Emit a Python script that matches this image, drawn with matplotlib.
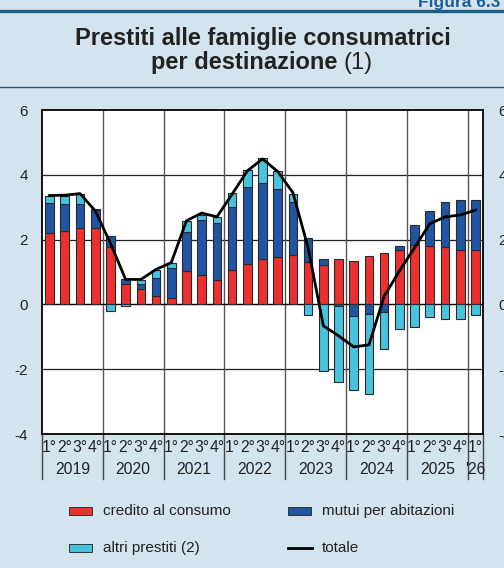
import matplotlib
matplotlib.use("Agg")
import matplotlib.pyplot as plt
import numpy as np
from matplotlib.patches import Rectangle
from matplotlib.lines import Line2D

plt.rcParams['font.family'] = ['Liberation Sans', 'DejaVu Sans']

years = ["2019", "2020", "2021", "2022", "2023", "2024", "2025", "'26"]
quarters = ["1°", "2°", "3°", "4°"]

credito = [2.21, 2.27, 2.35, 2.37,
           1.77, 0.62, 0.46, 0.27,
           0.21, 1.03, 0.90, 0.74,
           1.05, 1.24, 1.40, 1.45,
           1.51, 1.30, 1.21, 1.40,
           1.34, 1.49, 1.60, 1.67,
           1.82, 1.80, 1.76, 1.69,
           1.67]
mutui = [0.92, 0.84, 0.74, 0.54,
         0.33, 0.16, 0.18, 0.55,
         0.92, 1.20, 1.71, 1.78,
         1.96, 2.37, 2.34, 2.12,
         1.65, 0.76, 0.18, -0.06,
         -0.36, -0.30, -0.24, 0.12,
         0.62, 1.08, 1.39, 1.53,
         1.56]
altri = [0.21, 0.23, 0.33, 0.02,
         -0.21, -0.04, 0.10, 0.25,
         0.15, 0.35, 0.15, 0.18,
         0.43, 0.53, 0.78, 0.55,
         0.26, -0.33, -2.06, -2.32,
         -2.29, -2.45, -1.14, -0.77,
         -0.69, -0.38, -0.45, -0.45,
         -0.33]
totale = [3.36, 3.37, 3.42, 2.89,
          1.89, 0.77, 0.77, 1.08,
          1.29, 2.58, 2.82, 2.70,
          3.40, 4.12, 4.49, 4.10,
          3.45, 1.75, -0.66, -0.97,
          -1.31, -1.25, 0.25, 1.03,
          1.75, 2.49, 2.70, 2.76,
          2.91]

series_labels = ["credito al consumo", "mutui per abitazioni", "altri prestiti (2)", "totale"]
c_red = "#ec2f2f"
c_blue = "#1f55a3"
c_light = "#48c3de"
bg = "#d4e4ef"
teal = "#1b5e87"
txt = "#222222"

W, H = 504, 568
fig = plt.figure(figsize=(W / 100, H / 100), dpi=100)
fig.patch.set_facecolor(bg)

def fx(px):
    return px / W

def fy(py):
    return 1 - py / H

# header lines
fig.add_artist(Line2D([0, 1], [fy(10.5), fy(10.5)], color=teal, lw=2.4))
fig.add_artist(Line2D([0, 1], [fy(87), fy(87)], color=teal, lw=1.0))
fig.text(fx(418), fy(7), "Figura 6.3", fontsize=12.5, fontweight='bold', color="#1b5e9a",
         ha='left', va='baseline')

fs_title = 17
fig.text(fx(263), fy(45), "Prestiti alle famiglie consumatrici", fontsize=fs_title,
         fontweight='bold', color=txt, ha='center', va='baseline')
t1 = fig.text(0, fy(69), "per destinazione ", fontsize=fs_title, fontweight='bold',
              color=txt, ha='left', va='baseline')
t2 = fig.text(0, fy(69), "(1)", fontsize=fs_title, color=txt, ha='left', va='baseline')
fig.canvas.draw()
w1 = t1.get_window_extent().width
w2 = t2.get_window_extent().width
x0 = 262 - (w1 + w2) / 2
t1.set_x(fx(x0))
t2.set_x(fx(x0 + w1))

left, right, top, bottom = 42, 483, 110, 434
ax = fig.add_axes([fx(left), fy(bottom), fx(right - left), (bottom - top) / H])
ax.set_facecolor("white")

n = len(credito)
x = np.arange(n)
width = 0.57

pos_base = np.zeros(n)
neg_base = np.zeros(n)
for vals, col in [(credito, c_red), (mutui, c_blue), (altri, c_light)]:
    v = np.array(vals)
    base = np.where(v >= 0, pos_base, neg_base)
    ax.bar(x, v, width=width, bottom=base, color=col, edgecolor="#2a2a2a", linewidth=0.8, zorder=3)
    pos_base = pos_base + np.where(v >= 0, v, 0)
    neg_base = neg_base + np.where(v < 0, v, 0)

ax.plot(x, totale, color="black", lw=2.0, zorder=4, solid_joinstyle='round')

ax.set_xlim(-0.5, n - 0.5)
ax.set_ylim(-4, 6)
for yv in [-2, 2, 4]:
    ax.axhline(yv, color="#222222", lw=0.9, zorder=1)
ax.axhline(0, color="black", lw=1.0, zorder=2)

for spine in ax.spines.values():
    spine.set_linewidth(1.3)
    spine.set_color("black")

ticks = [-4, -2, 0, 2, 4, 6]
ax.set_xticks([])
ax.set_yticks(ticks)
ax.set_yticklabels([str(t) for t in ticks])
ax.tick_params(axis='y', length=0, pad=10, labelsize=11, colors=txt)
ax2 = ax.twinx()
ax2.set_ylim(-4, 6)
ax2.set_yticks(ticks)
ax2.set_yticklabels([str(t) for t in ticks])
ax2.tick_params(axis='y', length=0, pad=11, labelsize=11, colors=txt)
for spine in ax2.spines.values():
    spine.set_visible(False)

ext = (479 - bottom) / (bottom - top)
for k in range(0, n + 1, 4):
    xb = k - 0.5
    if 0 < k < n:
        ax.axvline(xb, color="#555555", lw=1.0, zorder=1)
    ax.plot([xb, xb], [0, -ext], transform=ax.get_xaxis_transform(), color="#444444",
            lw=1.0, clip_on=False)
ax.plot([n - 0.5, n - 0.5], [0, -ext], transform=ax.get_xaxis_transform(), color="#444444",
        lw=1.0, clip_on=False)

qy = -(447 - bottom) / (bottom - top)
yy = -(470 - bottom) / (bottom - top)
for i in range(n):
    ax.text(i, qy, quarters[i % 4], transform=ax.get_xaxis_transform(), ha='center',
            va='center', fontsize=11.3, color=txt)
for j, yl in enumerate(years):
    start = 4 * j
    end = min(4 * j + 3, n - 1)
    ax.text((start + end) / 2, yy, yl, transform=ax.get_xaxis_transform(), ha='center',
            va='center', fontsize=11.3, color=txt)

# legend
def patch(x0, yc, col):
    fig.add_artist(Rectangle((fx(x0), fy(yc + 4)), fx(23), 8 / H, facecolor=col,
                             edgecolor="#333333", lw=0.7))

fs_leg = 11
patch(69, 511, c_red)
fig.text(fx(103), fy(511), series_labels[0], fontsize=fs_leg, va='center', ha='left', color=txt)
patch(288, 511, c_blue)
fig.text(fx(322), fy(511), series_labels[1], fontsize=fs_leg, va='center', ha='left', color=txt)
patch(69, 548, c_light)
fig.text(fx(103), fy(548), series_labels[2], fontsize=fs_leg, va='center', ha='left', color=txt)
fig.add_artist(Line2D([fx(288), fx(312)], [fy(548), fy(548)], color="black", lw=2.0))
fig.text(fx(322), fy(548), series_labels[3], fontsize=fs_leg, va='center', ha='left', color=txt)

fig.savefig("out.png", dpi=100, facecolor=fig.get_facecolor())
